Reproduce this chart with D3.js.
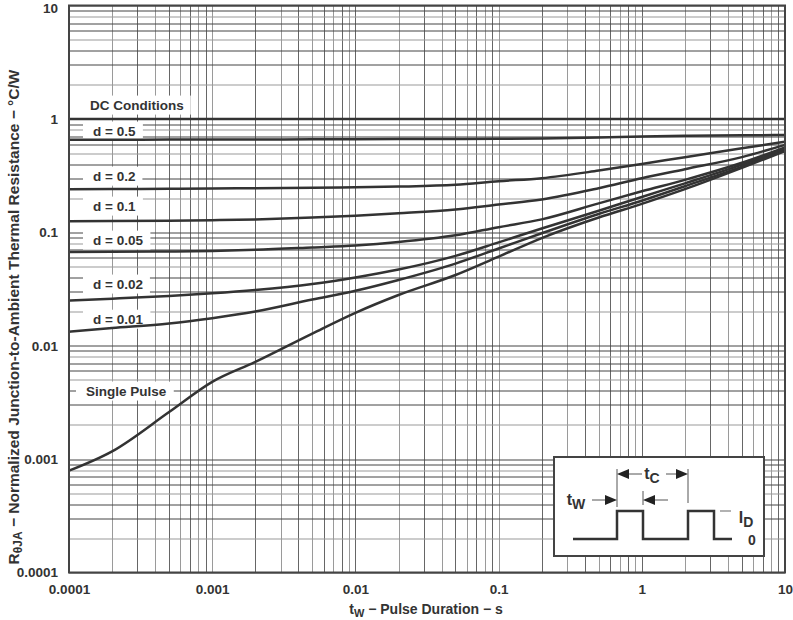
<!DOCTYPE html>
<html>
<head>
<meta charset="utf-8">
<script src="https://cdn.jsdelivr.net/npm/d3@7"></script>
<style>
  body { margin: 0; background: #fff; }
  svg { font-family: "Liberation Sans", Arial, sans-serif; }
</style>
</head>
<body>
<div id="canvas"></div>
<script>
// pulse durations (s) shared by all curves
var tw = [0.0001, 0.0002, 0.0005, 0.001, 0.002, 0.005, 0.01, 0.02, 0.05, 0.1, 0.2, 0.5, 1, 2, 5, 10];

var dcCond  = [1, 1, 1, 1, 1, 1, 1, 1, 1, 1, 1, 1, 1, 1, 1, 1];
var d050 = [0.655, 0.656, 0.657, 0.658, 0.659, 0.66, 0.662, 0.664, 0.666, 0.668, 0.672, 0.685, 0.70, 0.71, 0.718, 0.72];
var d020 = [0.240, 0.241, 0.242, 0.243, 0.245, 0.247, 0.25, 0.253, 0.262, 0.282, 0.30, 0.35, 0.40, 0.46, 0.55, 0.63];
var d010 = [0.125, 0.1255, 0.1265, 0.128, 0.13, 0.135, 0.14, 0.147, 0.159, 0.176, 0.195, 0.245, 0.30, 0.36, 0.46, 0.59];
var d005 = [0.067, 0.0673, 0.0678, 0.0685, 0.070, 0.0735, 0.0765, 0.082, 0.094, 0.111, 0.13, 0.18, 0.23, 0.29, 0.41, 0.56];
var d002 = [0.025, 0.026, 0.0275, 0.029, 0.031, 0.035, 0.040, 0.047, 0.062, 0.0815, 0.108, 0.155, 0.205, 0.27, 0.395, 0.545];
var d001 = [0.0133, 0.0143, 0.0157, 0.0175, 0.0200, 0.0255, 0.0305, 0.038, 0.053, 0.072, 0.098, 0.145, 0.19, 0.255, 0.38, 0.53];
var single = [0.00079, 0.00117, 0.0026, 0.0048, 0.0072, 0.0128, 0.0195, 0.028, 0.042, 0.061, 0.089, 0.135, 0.178, 0.24, 0.37, 0.52];

var series = [dcCond, d050, d020, d010, d005, d002, d001, single];
var labels = ["DC Conditions", "d = 0.5", "d = 0.2", "d = 0.1", "d = 0.05", "d = 0.02", "d = 0.01", "Single Pulse"];
// vertical anchor of each label, in axis units
var labelAt = [1.33, 0.784, 0.314, 0.171, 0.0857, 0.0351, 0.0172, 0.0040];

var xTicks = [0.0001, 0.001, 0.01, 0.1, 1, 10];
var yTicks = [0.0001, 0.001, 0.01, 0.1, 1, 10];

var margin = {top: 5.5, right: 8, bottom: 47.5, left: 69},
    width = 793 - margin.left - margin.right,
    height = 620 - margin.top - margin.bottom;

var svg = d3.select("#canvas")
  .append("svg")
  .attr("width", 793)
  .attr("height", 620);

var g = svg.append("g")
  .attr("transform", "translate(" + margin.left + "," + margin.top + ")");

var x = d3.scaleLog().domain([0.0001, 10]).range([0, width]);
var y = d3.scaleLog().domain([0.0001, 10]).range([height, 0]);

// grid
g.append("g").selectAll("line")
  .data(x.ticks())
  .enter().append("line")
  .attr("x1", d => Math.round(x(d)) + 0.5).attr("x2", d => Math.round(x(d)) + 0.5)
  .attr("y1", 0).attr("y2", height)
  .style("stroke", (d, i) => i % 2 ? "#9a9a9a" : "#666")
  .style("stroke-width", 1);

g.append("g").selectAll("line")
  .data(y.ticks())
  .enter().append("line")
  .attr("y1", d => Math.round(y(d)) + 0.5).attr("y2", d => Math.round(y(d)) + 0.5)
  .attr("x1", 0).attr("x2", width)
  .style("stroke", (d, i) => i % 3 == 1 ? "#999" : "#444")
  .style("stroke-width", 1);

// axes (labels only, ticks are the grid)
var xAxis = g.append("g")
  .attr("transform", "translate(0," + height + ")")
  .call(d3.axisBottom(x).tickValues(xTicks).tickSize(0).tickPadding(17).tickFormat(d3.format("~g")));
var yAxis = g.append("g")
  .call(d3.axisLeft(y).tickValues(yTicks).tickSize(0).tickPadding(11).tickFormat(d3.format("~g")));
[xAxis, yAxis].forEach(function(a) {
  a.select(".domain").remove();
  a.selectAll("text")
    .style("font-size", "13.5px")
    .style("font-weight", "bold")
    .style("fill", "#333")
    .style("font-family", "'Liberation Sans', Arial, sans-serif");
});
xAxis.selectAll("text").attr("dy", "0.3em");
yAxis.selectAll("text").filter(d => d == 10).attr("dy", "0.55em");

// curve labels with white boxes behind them
var lab = g.append("g");
labels.forEach(function(t, i) {
  var lx = i == 0 ? 21 : (i == 7 ? 17 : 24);
  var txt = lab.append("text")
    .attr("x", lx)
    .attr("y", y(labelAt[i]))
    .attr("dy", "0.35em")
    .style("font-size", "13.5px")
    .style("font-weight", "bold")
    .style("fill", "#333")
    .text(t);
  var b = txt.node().getBBox();
  lab.insert("rect", "text")
    .attr("x", b.x - 10)
    .attr("y", b.y - 2)
    .attr("width", b.width + 17)
    .attr("height", b.height + 4)
    .style("fill", "#fff");
});

// curves
var line = d3.line()
  .x((d, i) => x(tw[i]))
  .y(d => y(d))
  .curve(d3.curveMonotoneX);

g.append("g").selectAll("path")
  .data(series)
  .enter().append("path")
  .attr("d", line)
  .style("fill", "none")
  .style("stroke", "#333")
  .style("stroke-width", 2.5);

// frame
g.append("rect")
  .attr("width", width).attr("height", height)
  .style("fill", "none")
  .style("stroke", "#444")
  .style("stroke-width", 2);

// inset pulse diagram
var ins = svg.append("g").attr("transform", "translate(554,457)");
ins.append("rect")
  .attr("width", 210).attr("height", 99)
  .style("fill", "#fff").style("stroke", "#444").style("stroke-width", 2);
var wave = [[19, 82], [63, 82], [63, 54], [89, 54], [89, 82], [134, 82], [134, 54], [160, 54], [160, 82], [178, 82]];
ins.append("path")
  .attr("d", d3.line()(wave))
  .style("fill", "none").style("stroke", "#333").style("stroke-width", 2.5);
ins.append("line").attr("x1", 166).attr("x2", 177).attr("y1", 54).attr("y2", 54)
  .style("stroke", "#999").style("stroke-width", 1.5);
// extension lines
[[63, 12, 50], [134, 12, 46], [89, 34, 48]].forEach(function(l) {
  ins.append("line").attr("x1", l[0]).attr("x2", l[0]).attr("y1", l[1]).attr("y2", l[2])
    .style("stroke", "#555").style("stroke-width", 1);
});
function arrow(x0, x1, yy) {
  var dir = x1 > x0 ? 1 : -1;
  ins.append("line").attr("x1", x0).attr("x2", x1 - dir * 10).attr("y1", yy).attr("y2", yy)
    .style("stroke", "#555").style("stroke-width", 1);
  ins.append("path")
    .attr("d", "M" + x1 + "," + yy + "L" + (x1 - dir * 12) + "," + (yy - 5) + "L" + (x1 - dir * 12) + "," + (yy + 5) + "Z")
    .style("fill", "#222");
}
arrow(88, 63, 17);
arrow(112, 134, 17);
arrow(38, 63, 43);
arrow(114, 89, 43);

function sub(tx, ty, main, s, size) {
  var t = ins.append("text").attr("x", tx).attr("y", ty)
    .style("font-size", size + "px").style("font-weight", "bold").style("fill", "#333")
    .attr("text-anchor", "middle");
  t.append("tspan").text(main);
  t.append("tspan").attr("dy", 4).style("font-size", (size - 2) + "px").text(s);
}
sub(22, 48, "t", "W", 16);
sub(98, 22, "t", "C", 16);
sub(192, 66, "I", "D", 16);
ins.append("text").attr("x", 198).attr("y", 88).attr("text-anchor", "middle")
  .style("font-size", "14px").style("font-weight", "bold").style("fill", "#333").text("0");

// axis titles
var xt = svg.append("text")
  .attr("x", 426).attr("y", 614)
  .attr("text-anchor", "middle")
  .style("font-size", "14px").style("font-weight", "bold").style("fill", "#333");
xt.append("tspan").text("t");
xt.append("tspan").attr("dy", 3).style("font-size", "11px").text("W");
xt.append("tspan").attr("dy", -3).text(" \u2212 Pulse Duration \u2212 s");

var yt = svg.append("text")
  .attr("transform", "translate(19,317) rotate(-90)")
  .attr("text-anchor", "middle")
  .style("font-size", "15.5px").style("font-weight", "bold").style("fill", "#333");
yt.append("tspan").text("R");
yt.append("tspan").attr("dy", 3).style("font-size", "12px").text("\u03b8JA");
yt.append("tspan").attr("dy", -3).text(" \u2212 Normalized Junction-to-Ambient Thermal Resistance \u2212 \u00b0C/W");
</script>
</body>
</html>
